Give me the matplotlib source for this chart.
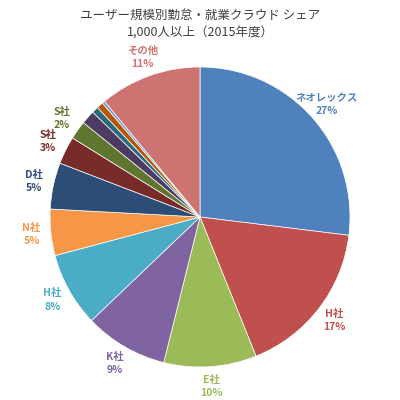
import matplotlib.pyplot as plt
import numpy as np

plt.rcParams['font.family'] = ['Noto Sans CJK JP', 'DejaVu Sans']

labels = ["ネオレックス", "H社", "E社", "K社", "H社", "N社", "D社", "S社", "S社", "", "", "", "", "その他"]
values = [27, 17, 10, 9, 8, 5, 5, 3, 2, 1.5, 0.7, 0.7, 0.3, 11]
shown = ["27%", "17%", "10%", "9%", "8%", "5%", "5%", "3%", "2%", "", "", "", "", "11%"]
colors = ["#4f81bd", "#c0504d", "#9bbb59", "#8064a2", "#4bacc6", "#f79646",
          "#2c4d75", "#772c2a", "#5f7530", "#4d3b62", "#276a7c", "#b65708",
          "#729aca", "#cd7371"]

fig = plt.figure(figsize=(4, 4), dpi=100)
ax = fig.add_axes([0, 0, 1, 1])
wedges, _ = ax.pie(values, colors=colors, startangle=90, counterclock=False,
                   wedgeprops=dict(linewidth=0.5, edgecolor="white"))
for w, lab, pct, c in zip(wedges, labels, shown, colors):
    if not lab:
        continue
    ang = np.deg2rad((w.theta1 + w.theta2) / 2)
    r = 1.13
    x, y = r * np.cos(ang), r * np.sin(ang)
    ax.text(x, y, f"{lab}\n{pct}", color=c, ha="center", va="center",
            fontsize=7.5, fontweight="bold", linespacing=1.4)
ax.set_aspect("equal")
ax.set_xlim(-200 / 150, 200 / 150)
ax.set_ylim(-183 / 150, 217 / 150)
ax.axis("off")
fig.text(0.5, 0.962, "ユーザー規模別勤怠・就業クラウド シェア", ha="center", va="center", fontsize=9, color="#404040")
fig.text(0.5, 0.918, "1,000人以上（2015年度）", ha="center", va="center", fontsize=9, color="#404040")
fig.savefig("out.png", dpi=100)
